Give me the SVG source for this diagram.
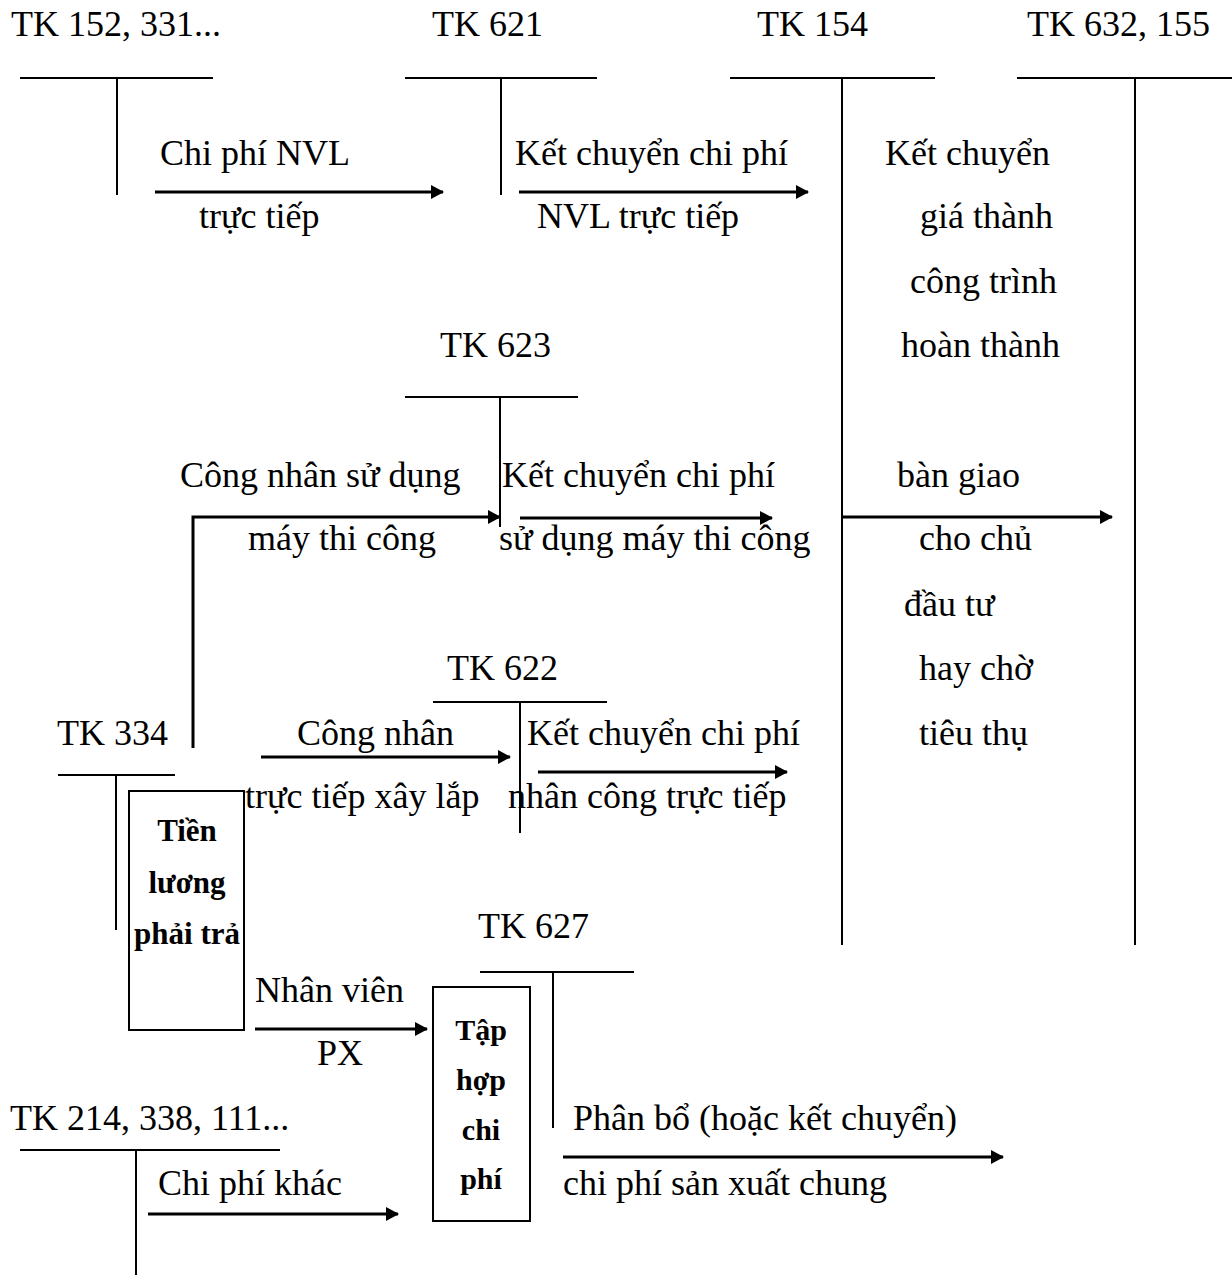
<svg xmlns="http://www.w3.org/2000/svg" width="1232" height="1285" viewBox="0 0 1232 1285">
<defs>
<marker id="ah" markerUnits="userSpaceOnUse" markerWidth="13" markerHeight="14" refX="12" refY="7" orient="auto">
<path d="M0,0 L13,7 L0,14 z" fill="#000"/>
</marker>
<style>
text{font-family:"Liberation Serif","Times New Roman",serif;font-size:36px;fill:#000}
.b{font-weight:bold;font-size:30px;text-anchor:middle}
.b2{font-weight:bold;font-size:31px;text-anchor:middle}
.t{stroke:#000;stroke-width:2;fill:none}
.a{stroke:#000;stroke-width:3;fill:none;marker-end:url(#ah)}
.box{stroke:#000;stroke-width:2;fill:none}
</style>
</defs>
<rect width="1232" height="1285" fill="#fff"/>

<g id="tk152">
<text x="11" y="36">TK 152, 331...</text>
<path class="t" d="M20,78 H213 M117,78 V195"/>
</g>
<g id="tk621">
<text x="432" y="36">TK 621</text>
<path class="t" d="M405,78 H597 M501,78 V195"/>
</g>
<g id="tk154">
<text x="757" y="36">TK 154</text>
<path class="t" d="M730,78 H935 M842,78 V945"/>
</g>
<g id="tk632">
<text x="1027" y="36">TK 632, 155</text>
<path class="t" d="M1017,78 H1232 M1135,78 V945"/>
</g>
<g id="tk623">
<text x="440" y="357">TK 623</text>
<path class="t" d="M405,397 H578 M500,397 V527"/>
</g>
<g id="tk622">
<text x="447" y="680">TK 622</text>
<path class="t" d="M433,702 H607 M520,702 V833"/>
</g>
<g id="tk334">
<text x="57" y="745">TK 334</text>
<path class="t" d="M58,775 H175 M116,775 V930"/>
</g>
<g id="tienluong">
<rect class="box" x="129" y="791" width="115" height="239"/>
<text class="b2" x="187" y="841">Tiền</text>
<text class="b2" x="187" y="893">lương</text>
<text class="b2" x="187" y="944">phải trả</text>
</g>
<g id="tk627">
<text x="478" y="938">TK 627</text>
<path class="t" d="M480,972 H634 M553,972 V1128"/>
</g>
<g id="taphop">
<rect class="box" x="433" y="987" width="97" height="234"/>
<text class="b" x="481" y="1040">Tập</text>
<text class="b" x="481" y="1090">hợp</text>
<text class="b" x="481" y="1140">chi</text>
<text class="b" x="481" y="1189">phí</text>
</g>
<g id="tk214">
<text x="10" y="1130">TK 214, 338, 111...</text>
<path class="t" d="M20,1150 H280 M136,1150 V1275"/>
</g>

<g id="connectors">
<path class="a" d="M155,192 H443"/>
<path class="a" d="M519,192 H808"/>
<path class="a" d="M193,748 V517 H500"/>
<path class="a" d="M520,518 H772"/>
<path class="a" d="M842,517 H1112"/>
<path class="a" d="M261,757 H510"/>
<path class="a" d="M538,772 H787"/>
<path class="a" d="M255,1029 H427"/>
<path class="a" d="M148,1214 H398"/>
<path class="a" d="M563,1157 H1003"/>
</g>

<g id="labels">
<text x="160" y="165">Chi phí NVL</text>
<text x="199" y="228">trực tiếp</text>
<text x="515" y="165">Kết chuyển chi phí</text>
<text x="537" y="228">NVL trực tiếp</text>
<text x="885" y="165">Kết chuyển</text>
<text x="920" y="228">giá thành</text>
<text x="910" y="293">công trình</text>
<text x="901" y="357">hoàn thành</text>
<text x="180" y="487">Công nhân sử dụng</text>
<text x="248" y="550">máy thi công</text>
<text x="502" y="487">Kết chuyển chi phí</text>
<text x="499" y="550">sử dụng máy thi công</text>
<text x="897" y="487">bàn giao</text>
<text x="919" y="550">cho chủ</text>
<text x="904" y="616">đầu tư</text>
<text x="919" y="680">hay chờ</text>
<text x="919" y="745">tiêu thụ</text>
<text x="297" y="745">Công nhân</text>
<text x="245" y="808">trực tiếp xây lắp</text>
<text x="527" y="745">Kết chuyển chi phí</text>
<text x="508" y="808">nhân công trực tiếp</text>
<text x="255" y="1002">Nhân viên</text>
<text x="317" y="1065">PX</text>
<text x="158" y="1195">Chi phí khác</text>
<text x="573" y="1130">Phân bổ (hoặc kết chuyển)</text>
<text x="563" y="1195">chi phí sản xuất chung</text>
</g>
</svg>
